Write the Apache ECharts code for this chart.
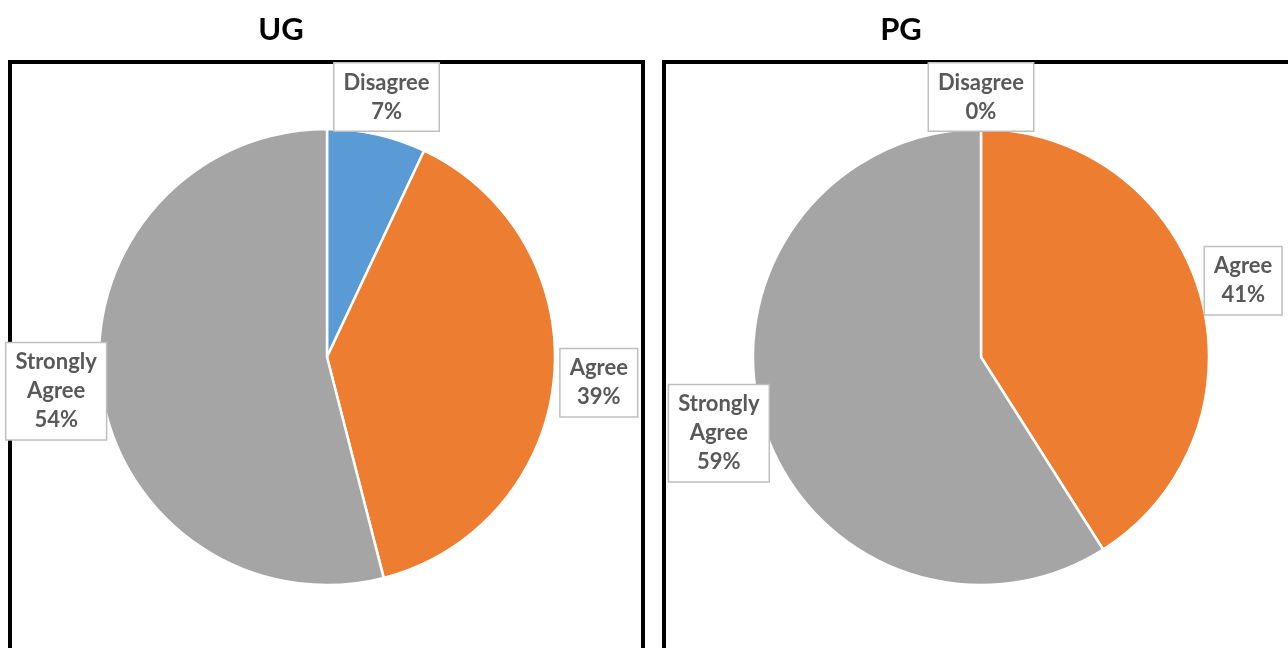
<!DOCTYPE html>
<html><head><meta charset="utf-8">
<script src="https://cdn.jsdelivr.net/npm/echarts@6/dist/echarts.min.js"></script>
<style>html,body{margin:0;padding:0;background:#fff}#c{width:1288px;height:648px}</style>
</head><body><div id="c"></div>
<script>
const categories = ['Disagree', 'Agree', 'Strongly Agree'];
const ugValues = [7, 39, 54];
const pgValues = [0, 41, 59];
const panelTitles = ['UG', 'PG'];
const sliceColors = ['#5b9bd5', '#ed7d31', '#a5a5a5'];

const FONT = 'Lato, "Open Sans", sans-serif';
const FRAME_TOP = 62;

function makeData(vals) {
  return categories.map((c, i) => ({ name: c, value: vals[i], itemStyle: { color: sliceColors[i] } }));
}

function pieSeries(vals, center) {
  return [
    {
      type: 'pie', center: center, radius: 228, startAngle: 90, clockwise: true,
      silent: true, animation: false,
      label: { show: false }, labelLine: { show: false },
      itemStyle: { borderColor: '#fff', borderWidth: 2.5 },
      data: makeData(vals)
    },
    {
      type: 'pie', center: center, radius: [260, 280], startAngle: 90, clockwise: true,
      silent: true, animation: false, z: 5,
      itemStyle: { color: 'rgba(0,0,0,0)', borderWidth: 0 },
      labelLine: { show: false },
      label: {
        show: true, position: 'inside',
        formatter: p => p.name.replace(' ', '\n') + '\n' + Math.round(p.percent) + '%',
        fontFamily: FONT, fontWeight: 'bold', fontSize: 22, lineHeight: 29,
        color: '#595959', backgroundColor: '#fff',
        borderColor: '#bfbfbf', borderWidth: 1.5, padding: [5, 9, 4, 9],
        align: 'center', verticalAlign: 'middle'
      },
      labelLayout: function (params) {
        const r = params.labelRect;
        return r.y < FRAME_TOP ? { dy: FRAME_TOP - r.y } : {};
      },
      data: makeData(vals).map(d => Object.assign({}, d, { itemStyle: { color: 'rgba(0,0,0,0)' } }))
    }
  ];
}

const chart = echarts.init(document.getElementById('c'), null, { renderer: 'canvas' });
chart.setOption({
  animation: false,
  backgroundColor: '#fff',
  graphic: [
    { type: 'rect', z: 0, shape: { x: 10, y: FRAME_TOP, width: 633, height: 640 }, style: { fill: 'none', stroke: '#000', lineWidth: 4 } },
    { type: 'rect', z: 0, shape: { x: 664, y: FRAME_TOP, width: 700, height: 640 }, style: { fill: 'none', stroke: '#000', lineWidth: 4 } },
    { type: 'text', z: 10, x: 281, y: 30, style: { text: panelTitles[0], align: 'center', verticalAlign: 'middle', font: 'bold 31px ' + FONT, fill: '#000' } },
    { type: 'text', z: 10, x: 901, y: 30, style: { text: panelTitles[1], align: 'center', verticalAlign: 'middle', font: 'bold 31px ' + FONT, fill: '#000' } }
  ],
  series: [].concat(pieSeries(ugValues, [327, 357]), pieSeries(pgValues, [981, 357]))
});
</script></body></html>
